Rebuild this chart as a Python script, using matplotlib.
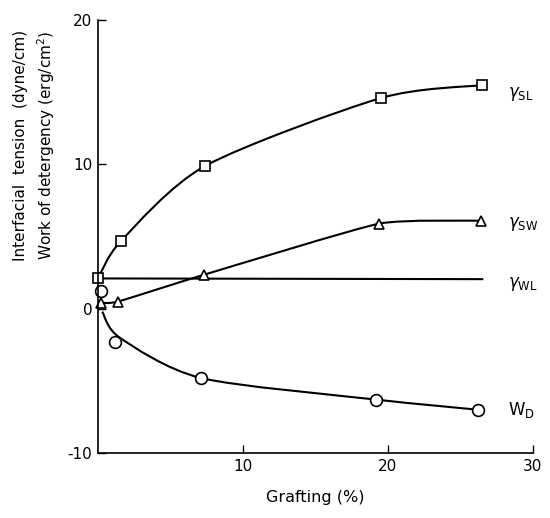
import numpy as np
import matplotlib
matplotlib.use('Agg')
import matplotlib.pyplot as plt
from matplotlib.path import Path
from matplotlib.patches import PathPatch

plt.rcParams['font.family'] = ['DejaVu Sans']
plt.rcParams['axes.unicode_minus'] = False
plt.rcParams['mathtext.fontset'] = 'dejavusans'

# data (grafting %, value)
sl_x = [0.0, 1.6, 7.4, 19.5, 26.5]
sl_y = [2.1, 4.7, 9.9, 14.6, 15.5]

sw_x = [0.2, 1.4, 7.3, 19.4, 26.4]
sw_y = [0.4, 0.5, 2.35, 5.9, 6.1]

wl_x = [0.0, 26.5]
wl_y = [2.1, 2.05]

wd_x = [0.2, 1.2, 7.1, 19.2, 26.2]
wd_y = [1.2, -2.3, -4.8, -6.3, -7.0]
# the drawn W_D curve starts at the origin, the first circle is off the curve
wd_curve_x = [0.3, 1.5, 7.1, 19.2, 26.2]
wd_curve_y = [-0.2, -2.0, -4.8, -6.3, -7.0]

labels = [r'$\gamma_{\rm SL}$', r'$\gamma_{\rm SW}$', r'$\gamma_{\rm WL}$', r'W$_{\rm D}$']
label_y = [14.9, 5.9, 1.7, -7.0]

x_ticks = [10, 20, 30]
y_ticks = [-10, 0, 10, 20]


def smooth_path(xs, ys, t=0.8):
    # catmull-rom through the points, drawn as cubic bezier pieces
    p = np.column_stack([xs, ys]).astype(float)
    pts = np.vstack([p[0], p, p[-1]])
    verts = [tuple(p[0])]
    codes = [Path.MOVETO]
    for i in range(1, len(pts) - 2):
        c1 = pts[i] + t * (pts[i + 1] - pts[i - 1]) / 6.0
        c2 = pts[i + 1] - t * (pts[i + 2] - pts[i]) / 6.0
        verts += [tuple(c1), tuple(c2), tuple(pts[i + 1])]
        codes += [Path.CURVE4] * 3
    return Path(verts, codes)


fig = plt.figure(figsize=(5.5, 5.18), dpi=100)
ax = fig.add_axes([0.178, 0.1255, 0.791, 0.8355])

for xs, ys, t in [(sl_x, sl_y, 0.8), (sw_x, sw_y, 0.5), (wd_curve_x, wd_curve_y, 0.8)]:
    ax.add_patch(PathPatch(smooth_path(xs, ys, t), fill=False, lw=1.5,
                           ec='black', clip_on=False))
ax.plot(wl_x, wl_y, color='black', lw=1.5, clip_on=False)

ax.plot(sl_x, sl_y, ls='none', marker='s', ms=7, mfc='white', mec='black',
        mew=1.2, clip_on=False)
ax.plot(sw_x, sw_y, ls='none', marker='^', ms=7, mfc='white', mec='black',
        mew=1.2, clip_on=False)
ax.plot(wd_x, wd_y, ls='none', marker='o', ms=8.5, mfc='white', mec='black',
        mew=1.2, clip_on=False)

for lab, yy in zip(labels, label_y):
    ax.text(28.3, yy, lab, fontsize=12, va='center', ha='left')

ax.set_xlim(0, 30)
ax.set_ylim(-10, 20)
ax.set_xticks(x_ticks)
ax.set_yticks(y_ticks)
ax.tick_params(direction='in', length=6, width=1, labelsize=11, pad=4)
ax.spines['top'].set_visible(False)
ax.spines['right'].set_visible(False)
ax.spines['left'].set_linewidth(1.2)
ax.spines['bottom'].set_linewidth(1.2)

ax.set_xlabel('Grafting (%)', fontsize=11.5, labelpad=12)
ax.text(-0.179, 0.71, 'Interfacial  tension  (dyne/cm)', transform=ax.transAxes,
        rotation=90, ha='center', va='center', fontsize=11)
ax.text(-0.12, 0.71, r'Work of detergency (erg/cm$^2$)', transform=ax.transAxes,
        rotation=90, ha='center', va='center', fontsize=11)

fig.savefig('out.png', dpi=100)
